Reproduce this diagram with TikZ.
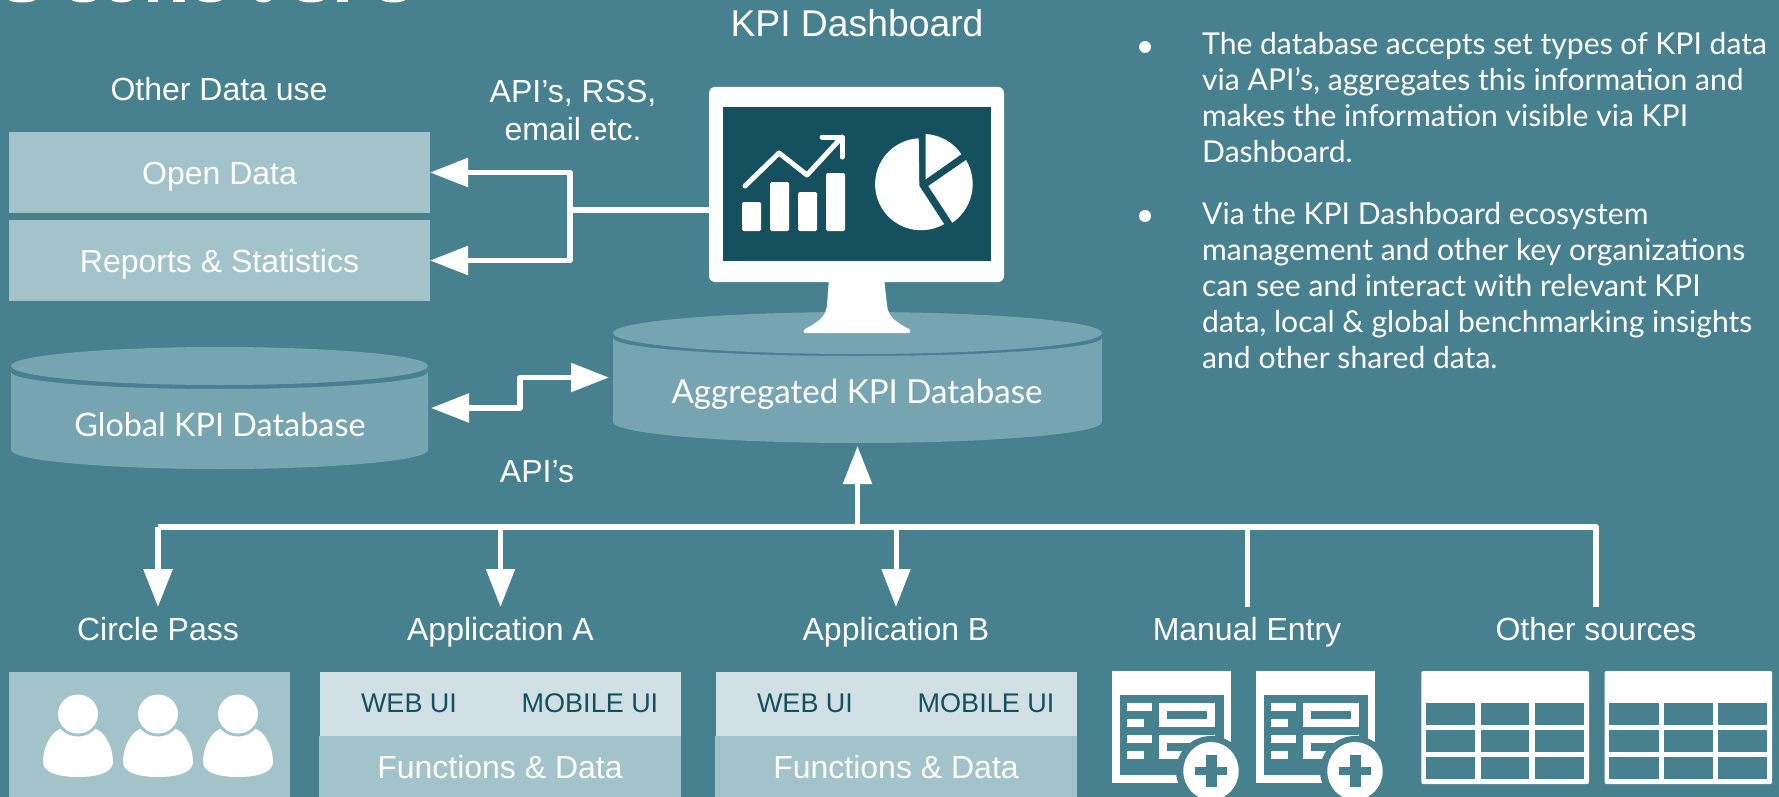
\documentclass[tikz,border=0pt]{standalone}
\usepackage{fontspec}
\usetikzlibrary{arrows.meta}
\setmainfont{Liberation Sans}
\newfontfamily\ubfont{Lato}
\definecolor{bgc}{HTML}{47808F}
\definecolor{dbc}{HTML}{76A4B1}
\definecolor{lightc}{HTML}{A2C3C9}
\definecolor{paleC}{HTML}{D0E0E5}
\definecolor{darkc}{HTML}{15505F}
\newcommand{\arialfs}{\fontsize{32}{37}\selectfont}
\newcommand{\bigfs}{\fontsize{37.3}{42}\selectfont}
\newcommand{\uifs}{\fontsize{27}{31}\selectfont}
\newcommand{\ubfs}{\fontsize{30.1}{36}\selectfont\ubfont}
\newcommand{\dbfsa}{\fontsize{32.4}{38}\selectfont\ubfont}
\newcommand{\dbfsb}{\fontsize{33.1}{38}\selectfont\ubfont}
\tikzset{
  x=1pt,y=-1pt,
  boxnode/.style={fill=lightc,inner sep=0pt,outer sep=0pt,minimum width=421pt,minimum height=81pt,text=white,font=\arialfs,text height=23pt,text depth=0pt},
  lbl/.style={inner sep=0pt,outer sep=0pt,text=white,font=\arialfs,align=center},
  headlbl/.style={lbl,minimum height=50pt,text height=23pt,text depth=7pt},
  uilbl/.style={inner sep=0pt,text=darkc,font=\uifs},
  dbshape/.style={inner sep=0pt,outer sep=0pt},
  dblbl/.style={inner sep=0pt,text=white},
  conn/.style={draw=white,line width=5.5pt,line join=round},
  arr/.style={conn,-{Triangle[length=38pt,width=28pt]}},
  dblarr/.style={conn,{Triangle[length=38pt,width=28pt]}-{Triangle[length=38pt,width=28pt]}},
  bullettext/.style={anchor=north west,inner sep=0pt,text=white,align=left,font=\ubfs},
  ubar/.style={fill=white,rounded corners=1.5pt},
}
\begin{document}
\begin{tikzpicture}
\useasboundingbox (0,0) rectangle (1779,797);
\clip (0,0) rectangle (1779,797);
\fill[bgc] (0,0) rectangle (1779,797);

% cropped title remains
\foreach \c/\r in {22/15,83.5/13.5,121.5/11.5,210/13,263.5/8.5,311/14,393.5/13.5}
  \fill[white] (\c,-2) ellipse [x radius=\r pt,y radius=4.5pt];
\foreach \a/\b in {148/158,173/185,337/348}
  \fill[white] (\a,0) rectangle (\b,2.5);

% left column
\node[lbl] (otheruse) at (219,89) {Other Data use};
\node[boxnode] (opendata) at (219.5,172.5) {Open Data};
\node[boxnode] (reports) at (219.5,260.5) {Reports \& Statistics};
\node[lbl] (apirss) at (573,110) {API’s, RSS,\\[1pt]email etc.};

% databases
\fill[dbc] (11,372) -- (11,450) arc[start angle=180,end angle=360,x radius=208.5pt,y radius=19pt] -- (428,372) arc[start angle=0,end angle=-180,x radius=208.5pt,y radius=17pt] -- cycle;
\fill[dbc] (219.5,366) ellipse [x radius=208.5pt,y radius=19pt];
\node[dbshape,minimum width=417pt,minimum height=122pt] (gdb) at (219.5,408) {};
\node[dblbl,font=\dbfsa] (gdblabel) at (220,425) {Global KPI Database};

\fill[dbc] (613,338) -- (613,422) arc[start angle=180,end angle=360,x radius=244.5pt,y radius=21pt] -- (1102,338) arc[start angle=0,end angle=-180,x radius=244.5pt,y radius=18pt] -- cycle;
\fill[dbc] (857.5,333) ellipse [x radius=244.5pt,y radius=21pt];
\node[dbshape,minimum width=489pt,minimum height=131pt] (adb) at (857.5,377.5) {};
\node[dblbl,font=\dbfsb] (adblabel) at (857,394.5) {Aggregated KPI Database};

% monitor
\fill[white] (829,278) -- (827,305) .. controls (826,318) and (816,323) .. (805,329) .. controls (803,331) and (803,333) .. (806,333) -- (908,333) .. controls (911,333) and (911,331) .. (909,329) .. controls (898,323) and (888,318) .. (887,305) -- (884,278) -- cycle;
\node[fill=white,rounded corners=6pt,inner sep=0pt,outer sep=0pt,minimum width=295pt,minimum height=195pt] (monitor) at (856.5,184.5) {};
\fill[darkc] (723,107) rectangle (991,261);
\fill[ubar] (742,202) rectangle (761,231);
\fill[ubar] (770,182) rectangle (789,231);
\fill[ubar] (798,192) rectangle (817,231);
\fill[ubar] (826,173) rectangle (845,231);
\draw[white,line width=5pt,line cap=round,line join=round] (745,186) -- (779,153) -- (807,175) -- (842,137);
\draw[white,line width=5pt,line cap=round,line join=round] (822,137) -- (842,137) -- (842,157);
% pie
\fill[white] (919.3,186) -- (918.7,138.3) arc[start angle=93,end angle=300,radius=46pt] -- cycle;
\fill[white] (928.3,186) -- (966,160) arc[start angle=31,end angle=-55.6,radius=46.8pt] -- cycle;
\fill[white] (925.7,179.3) -- (925.7,134) arc[start angle=86.7,end angle=34.4,radius=46.5pt] -- cycle;

% top kpi label
\node[lbl,font=\bigfs] (kpidash) at (857,23) {KPI Dashboard};

% connectors top
\coordinate (hub) at (570,210);
\draw[conn] (monitor.west |- hub) -- (hub);
\draw[arr] (hub) |- (opendata.east);
\draw[arr] (hub) |- (reports.east);
\coordinate (jog) at (520,393);
\draw[dblarr,shorten <=3pt,shorten >=4pt] (gdb.east) -| (jog) |- (adb.west);
\node[lbl] (apis) at (537,472) {API’s};

% bottom labels
\node[headlbl] (circle) at (158,632) {Circle Pass};
\node[headlbl] (appa) at (500.5,632) {Application A};
\node[headlbl] (appb) at (896,632) {Application B};
\node[headlbl] (manual) at (1247,632) {Manual Entry};
\node[headlbl] (other) at (1596,632) {Other sources};

% bus
\coordinate (busL) at (circle.north |- 0,527);
\coordinate (busR) at (other.north |- 0,527);
\coordinate (busUp) at (adb.south |- 0,527);
\draw[conn,line width=6pt] (busL) -- (busR) -- (other.north);
\draw[arr,line width=6pt] (busL) -- (circle.north);
\draw[arr,line width=5pt] (appa.north |- 0,527) -- (appa.north);
\draw[arr,line width=5pt] (appb.north |- 0,527) -- (appb.north);
\draw[conn,line width=5pt] (manual.north |- 0,527) -- (manual.north);
\draw[arr,shorten >=3pt] (busUp) -- (adb.south);

% Circle pass box
\node[fill=lightc,inner sep=0pt,outer sep=0pt,minimum width=281pt,minimum height=125pt] (circlebox) at (149.5,734.5) {};
\foreach \c in {78,158,238} {
  \fill[white] (\c-18,729) .. controls (\c-28,733) and (\c-35,748) .. (\c-35,762) .. controls (\c-35,773) and (\c-18,777) .. (\c,777) .. controls (\c+18,777) and (\c+35,773) .. (\c+35,762) .. controls (\c+35,748) and (\c+28,733) .. (\c+18,729) -- cycle;
  \fill[lightc] (\c,714) ellipse [x radius=23pt,y radius=22.5pt];
  \fill[white] (\c,714) ellipse [x radius=20pt,y radius=19.5pt];
}

% Application boxes
\foreach \n/\dx in {a/0,b/396} {
  \node[fill=paleC,inner sep=0pt,outer sep=0pt,minimum width=361pt,minimum height=64pt] (ui\n) at (500.5+\dx,704) {};
  \node[fill=lightc,inner sep=0pt,outer sep=0pt,minimum width=362pt,minimum height=61pt,text=white,font=\arialfs,text height=23pt,text depth=0pt] (fn\n) at (500+\dx,766.5) {Functions \& Data};
  \node[uilbl] (web\n) at (409+\dx,703) {WEB UI};
  \node[uilbl] (mob\n) at (590+\dx,703) {MOBILE UI};
}

% Manual entry icons
\foreach \dx in {0,144} {
  \begin{scope}[shift={(\dx,0)}]
  \fill[white] (1112,671) rectangle (1231,783);
  \fill[bgc] (1120,695) rectangle (1223.6,775);
  \fill[white] (1127.3,702.7) rectangle (1151.5,710.7);
  \fill[white] (1127.3,719) rectangle (1144,727);
  \fill[white] (1127.3,735) rectangle (1151.5,743);
  \fill[white] (1127.3,751) rectangle (1144,759);
  \fill[white] (1159.4,702.7) rectangle (1215,727);
  \fill[bgc] (1167.3,710.7) rectangle (1207.3,719);
  \fill[white] (1159.4,735) rectangle (1215,759);
  \fill[bgc] (1167.3,743) rectangle (1207.3,751);
  \fill[bgc] (1211,771) circle [radius=35pt];
  \fill[white] (1211,771) ellipse [x radius=27.7pt,y radius=29pt];
  \fill[bgc] (1195.4,767.3) rectangle (1227,775);
  \fill[bgc] (1205.5,755) rectangle (1216.5,786.7);
  \end{scope}
}

% Other sources tables
\foreach \dx in {0,183.2} {
  \begin{scope}[shift={(\dx,0)}]
  \fill[white,rounded corners=2pt] (1421.3,671) rectangle (1589,784);
  \foreach \xa/\xb in {1426/1475.3,1480.6/1529.4,1534.6/1584}
    \foreach \ya/\yb in {703/725,730/752,757/779}
      \fill[bgc] (\xa,\ya) rectangle (\xb,\yb);
  \end{scope}
}

% bullets
\fill[white] (1145,47) circle [radius=6pt];
\fill[white] (1145,216) circle [radius=6pt];
\node[bullettext] (bulleta) at (1202,32.5) {The database accepts set types of KPI data\\via API’s, aggregates this information and\\makes the information visible via KPI\\Dashboard.};
\node[bullettext] (bulletb) at (1202,202.5) {Via the KPI Dashboard ecosystem\\management and other key organizations\\can see and interact with relevant KPI\\data, local \& global benchmarking insights\\and other shared data.};
\end{tikzpicture}
\end{document}
